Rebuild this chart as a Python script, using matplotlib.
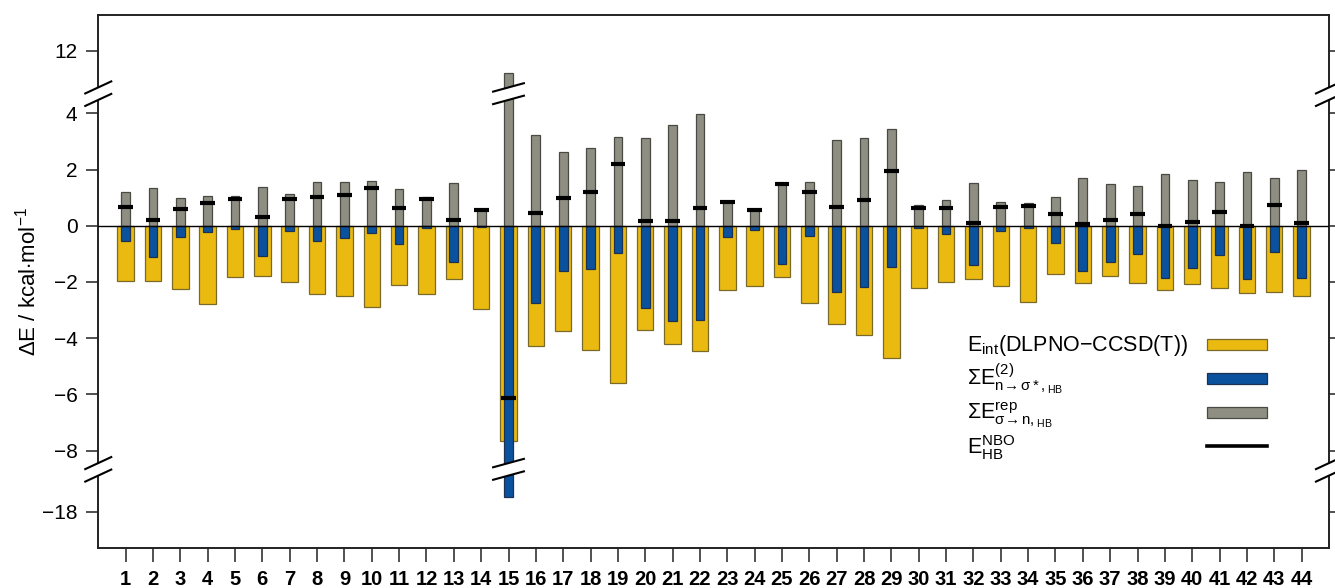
import numpy as np
import matplotlib
matplotlib.use("Agg")
import matplotlib.pyplot as plt
from matplotlib.patches import Rectangle
from matplotlib.transforms import blended_transform_factory

plt.rcParams['font.family'] = ['Liberation Sans', 'DejaVu Sans']
plt.rcParams['mathtext.fontset'] = 'custom'
plt.rcParams['mathtext.rm'] = 'Liberation Sans'
plt.rcParams['mathtext.it'] = 'Liberation Sans'
plt.rcParams['mathtext.bf'] = 'Liberation Sans:bold'

# ---------------- data ----------------
complexes = list(range(1, 45))
e_int = [-1.97, -1.96, -2.26, -2.79, -1.81, -1.79, -1.99, -2.43, -2.51, -2.90,
         -2.10, -2.43, -1.90, -2.98, -7.67, -4.27, -3.75, -4.44, -5.61, -3.71,
         -4.22, -4.46, -2.29, -2.15, -1.81, -2.76, -3.50, -3.89, -4.70, -2.22,
         -2.00, -1.91, -2.13, -2.73, -1.72, -2.04, -1.78, -2.05, -2.29, -2.09,
         -2.22, -2.38, -2.36, -2.50]
e_ct = [-0.53, -1.10, -0.39, -0.24, -0.11, -1.07, -0.18, -0.53, -0.45, -0.27,
        -0.66, -0.09, -1.28, -0.03, -17.46, -2.76, -1.61, -1.55, -0.98, -2.92,
        -3.40, -3.36, -0.39, -0.15, -1.36, -0.36, -2.35, -2.19, -1.48, -0.09,
        -0.30, -1.40, -0.19, -0.09, -0.60, -1.60, -1.28, -1.02, -1.85, -1.49,
        -1.05, -1.91, -0.95, -1.87]
e_rep = [1.21, 1.33, 0.99, 1.06, 1.07, 1.38, 1.13, 1.56, 1.55, 1.60,
         1.30, 1.02, 1.51, 0.55, 11.20, 3.24, 2.61, 2.75, 3.17, 3.11,
         3.58, 3.97, 0.85, 0.56, 1.47, 1.57, 3.04, 3.13, 3.43, 0.74,
         0.91, 1.51, 0.84, 0.80, 1.02, 1.69, 1.48, 1.42, 1.85, 1.64,
         1.56, 1.91, 1.69, 1.97]
e_hb = [0.68, 0.20, 0.58, 0.82, 0.95, 0.32, 0.94, 1.03, 1.09, 1.33,
        0.64, 0.94, 0.20, 0.55, -6.14, 0.46, 1.00, 1.19, 2.18, 0.18,
        0.18, 0.62, 0.85, 0.56, 1.47, 1.20, 0.68, 0.90, 1.95, 0.63,
        0.62, 0.10, 0.65, 0.71, 0.43, 0.07, 0.20, 0.41, -0.02, 0.13,
        0.50, 0.00, 0.73, 0.08]
ytick_vals = [12, 4, 2, 0, -2, -4, -6, -8, -18]
ytick_labels = ['12', '4', '2', '0', '\u22122', '\u22124', '\u22126', '\u22128', '\u221218']

legend_labels = [
    r'$\mathrm{E_{int}}$(DLPNO$-$CCSD(T))',
    '$\\Sigma\\mathrm{E}^{\\mathrm{(2)}}_{\\mathrm{n\u2192\\,\u03c3*,}\\mathrm{_{HB}}}$',
    '$\\Sigma\\mathrm{E}^{\\mathrm{rep}}_{\\mathrm{\u03c3\u2192\\,n,}\\mathrm{_{HB}}}$',
    r'$\mathrm{E}^{\mathrm{NBO}}_{\mathrm{HB}}$',
]

c_yellow = '#EBBA10'
c_blue = '#0B529E'
c_gray = '#8E8E82'

# -------- broken-axis scale (piecewise linear) --------
real_pts = np.array([-1000.0, -16.62, -8.55, 4.55, 10.63, 1000.0])
disp_pts = np.array([-1000.0 + 7.82, -8.80, -8.55, 4.55, 4.85, 1000.0 - 5.78])

def fwd(v):
    return np.interp(v, real_pts, disp_pts)

def inv(d):
    return np.interp(d, disp_pts, real_pts)

D_LO, D_HI = -11.46, 7.5

fig = plt.figure(figsize=(13.35, 5.88), dpi=100)
ax = fig.add_axes([0.0736, 0.0685, 0.9219, 0.906])
ax.set_yscale('function', functions=(fwd, inv))
ax.set_xlim(0, 45)
ax.set_ylim(inv(D_LO), inv(D_HI))

x = np.array(complexes)
ax.bar(x, e_int, width=0.6, color=c_yellow, edgecolor='#7a6a2a', linewidth=0.9, zorder=2)
ax.bar(x, e_rep, width=0.32, color=c_gray, edgecolor='#4a4a44', linewidth=0.9, zorder=3)
ax.bar(x, e_ct, width=0.32, color=c_blue, edgecolor='#1d3150', linewidth=0.9, zorder=3)
ax.axhline(0, color='black', lw=1.0, zorder=4)
ax.hlines(e_hb, x - 0.27, x + 0.27, color='black', lw=3.0, zorder=5)

ax.set_yticks(ytick_vals)
ax.set_yticklabels(ytick_labels)
ax.yaxis.set_minor_locator(matplotlib.ticker.NullLocator())
ax.set_xticks(complexes)
ax.set_xticklabels([str(c) for c in complexes], fontweight='bold', fontsize=14.5)
ax.tick_params(axis='y', which='major', direction='out', length=9, width=1.2,
               labelsize=15, pad=6, right=True, labelright=False, color='#333333')
ax.tick_params(axis='x', which='major', direction='out', length=10, width=1.2,
               pad=6, color='#333333')
for s in ax.spines.values():
    s.set_linewidth(1.4)
    s.set_color('#222222')

# -------- break marks --------
tr = blended_transform_factory(ax.transData, ax.transAxes)
def frac(d):
    return (d - D_LO) / (D_HI - D_LO)

def draw_break(xc, dc, hw, rise):
    sep = 0.445
    up = dc + sep / 2
    lo = dc - sep / 2
    xs = [xc - hw, xc + hw, xc + hw, xc - hw]
    ys = [frac(up - rise / 2), frac(up + rise / 2), frac(lo + rise / 2), frac(lo - rise / 2)]
    ax.fill(xs, ys, color='white', transform=tr, zorder=8, clip_on=False, lw=0)
    for yc in (up, lo):
        ax.plot([xc - hw, xc + hw], [frac(yc - rise / 2), frac(yc + rise / 2)],
                color='black', lw=1.5, transform=tr, zorder=9, clip_on=False,
                solid_capstyle='butt')

for dc in (4.70, -8.67):
    draw_break(0, dc, 0.51, 0.46)
    draw_break(45, dc, 0.51, 0.46)
    draw_break(15, dc, 0.60, 0.32)

# -------- legend (manual) --------
text_y = [0.369, 0.304, 0.240, 0.176]
for lab, ty in zip(legend_labels, text_y):
    ax.text(0.706, ty, lab, transform=ax.transAxes, fontsize=15.5, va='baseline', ha='left', zorder=10)
patch_y = [0.381, 0.317, 0.254]
patch_c = [(c_yellow, '#7a6a2a'), (c_blue, '#1d3150'), (c_gray, '#4a4a44')]
for py, (fc, ec) in zip(patch_y, patch_c):
    ax.add_patch(Rectangle((0.901, py - 0.0103), 0.049, 0.0206, transform=ax.transAxes,
                           facecolor=fc, edgecolor=ec, lw=0.9, zorder=10))
ax.plot([0.901, 0.950], [0.1915, 0.1915], transform=ax.transAxes, color='black', lw=2.6, zorder=10)

fig.text(28 / 1335, 1 - 281.5 / 588, r'$\Delta$E / kcal$\cdot$mol$^{-1}$', rotation=90,
         ha='center', va='center', fontsize=16)

fig.savefig('out.png', dpi=100)
